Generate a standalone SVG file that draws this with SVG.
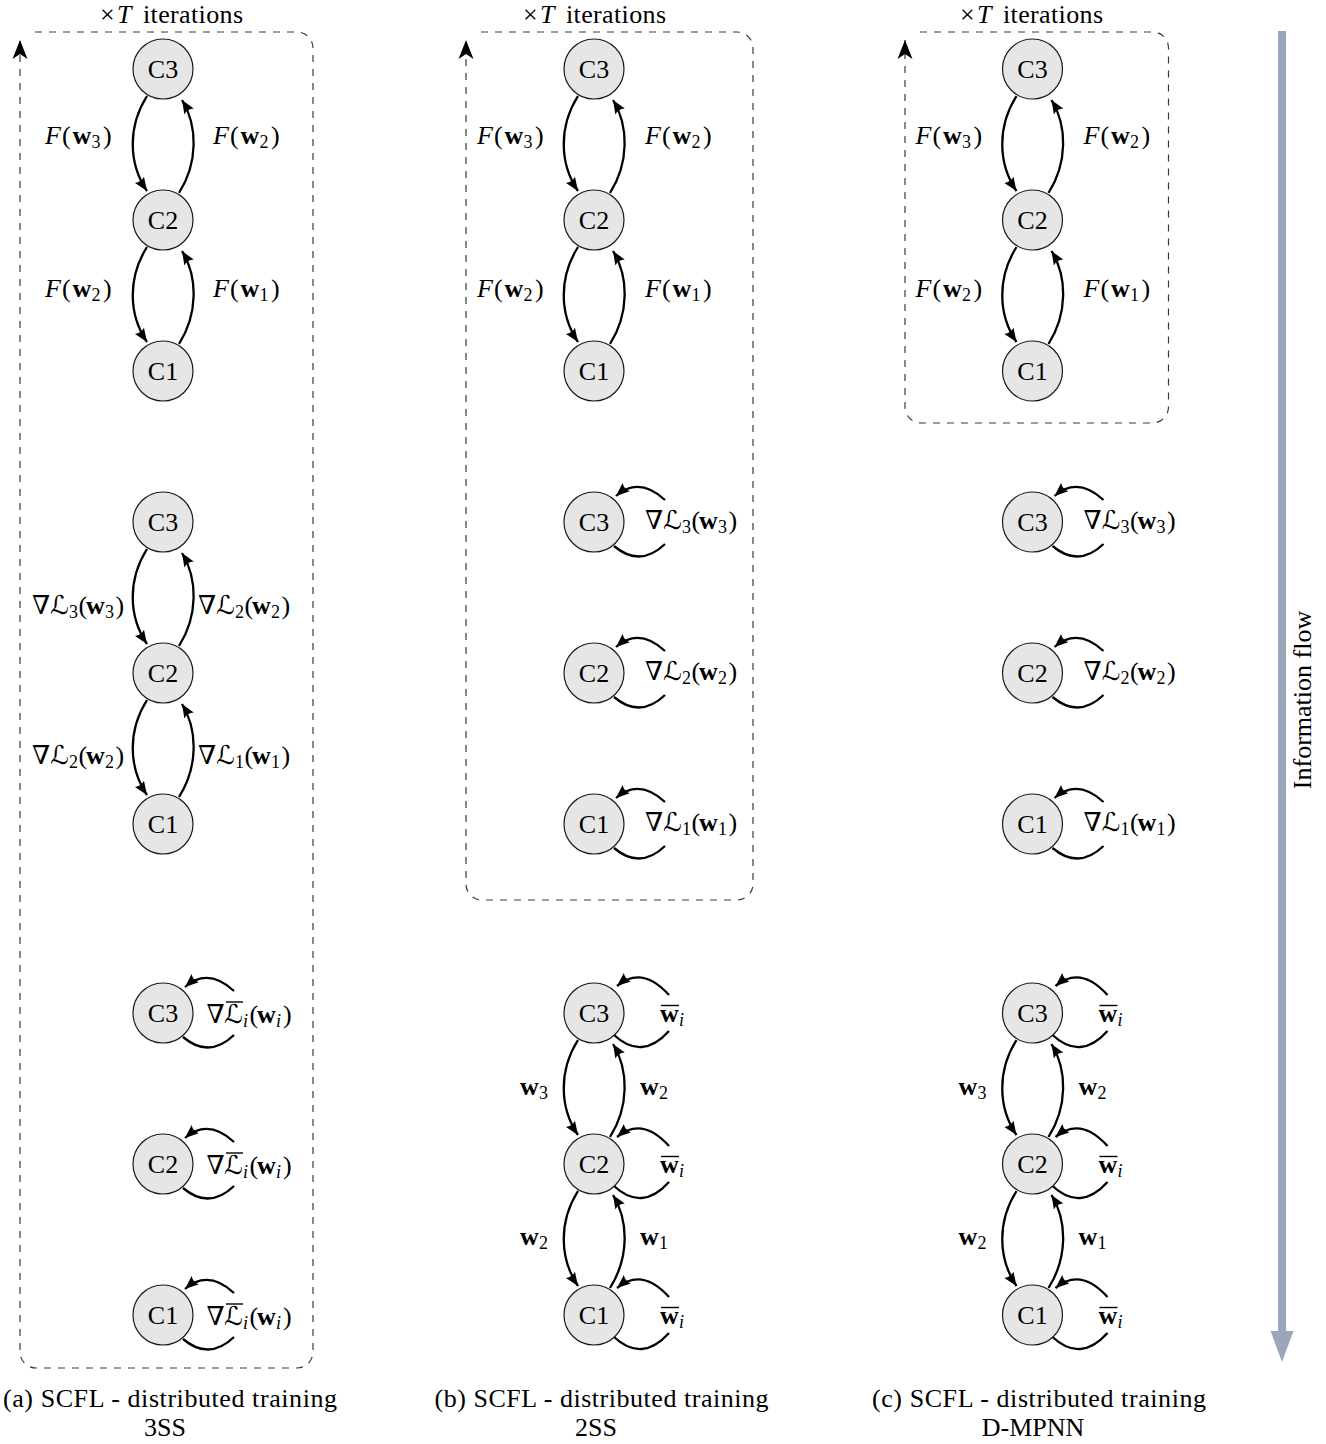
<svg xmlns="http://www.w3.org/2000/svg" width="1326" height="1444" viewBox="0 0 1326 1444">
<style>
text{font-family:"Liberation Serif","DejaVu Serif",serif;font-size:26px;fill:#000}
.node circle{fill:#e6e6e6;stroke:#1a1a1a;stroke-width:1.2}
.node text{text-anchor:middle}
.e{fill:none;stroke:#000;stroke-width:2.3;marker-end:url(#ah)}
.l{fill:none;stroke:#000;stroke-width:2.3}
.box{fill:none;stroke:#3a3a3a;stroke-width:1.2;stroke-dasharray:7 7;marker-end:url(#st)}
.i{font-style:italic}
.b{font-weight:bold}
.s{font-size:18px}
.m{font-family:"DejaVu Serif","DejaVu Sans",serif}
.ol{stroke:#000;stroke-width:1.4}
.mid{text-anchor:middle}
</style>
<defs>
<marker id="ah" viewBox="-14 -6 15 12" refX="0" refY="0" markerWidth="15" markerHeight="12" markerUnits="userSpaceOnUse" orient="auto">
<path d="M0,0 L-13.5,-5.5 Q-10.5,0 -13.5,5.5 Z" fill="#000"/>
</marker>
<marker id="st" viewBox="-20 -9 21 18" refX="0" refY="0" markerWidth="21" markerHeight="18" markerUnits="userSpaceOnUse" orient="auto">
<path d="M0,0 L-19,-7.5 L-14,0 L-19,7.5 Z" fill="#000"/>
</marker>
</defs>

<g id="frames">
<path class="box" d="M35,32 H297 A16,16 0 0 1 313,48 V1352 A16,16 0 0 1 297,1368 H36 A16,16 0 0 1 20,1352 V40"/>
<path class="box" d="M481,32 H737 A16,16 0 0 1 753,48 V884 A16,16 0 0 1 737,900 H482 A16,16 0 0 1 466,884 V40"/>
<path class="box" d="M920,32 H1152.5 A16,16 0 0 1 1168.5,48 V407 A16,16 0 0 1 1152.5,423 H921 A16,16 0 0 1 905,407 V40"/>
</g>

<g id="titles">
<text y="23"><tspan x="100">×</tspan><tspan class="i" x="117">T</tspan><tspan x="143" textLength="100">iterations</tspan></text>
<text y="23"><tspan x="523">×</tspan><tspan class="i" x="540">T</tspan><tspan x="566" textLength="100">iterations</tspan></text>
<text y="23"><tspan x="960">×</tspan><tspan class="i" x="977">T</tspan><tspan x="1003" textLength="100">iterations</tspan></text>
</g>

<g id="connectors">
<!-- panel a group 1 -->
<path class="e" d="M147,96 C128,126 128,163 147,191"/>
<path class="e" d="M179,193 C198,163 198,126 182,100"/>
<path class="e" d="M147,247 C128,277 128,314 147,342"/>
<path class="e" d="M179,344 C198,314 198,277 182,251"/>
<!-- panel a group 2 -->
<path class="e" d="M147,549 C128,579 128,616 147,644"/>
<path class="e" d="M179,646 C198,616 198,579 182,553"/>
<path class="e" d="M147,700 C128,730 128,767 147,795"/>
<path class="e" d="M179,797 C198,767 198,730 182,704"/>
<!-- panel a group 3 loops -->
<path class="e" d="M234,991 Q208,967 185,987"/><path class="l" d="M183,1037 Q209,1059 234,1035"/>
<path class="e" d="M234,1142 Q208,1118 185,1138"/><path class="l" d="M183,1188 Q209,1210 234,1186"/>
<path class="e" d="M234,1293 Q208,1269 185,1289"/><path class="l" d="M183,1339 Q209,1361 234,1337"/>
<!-- panel b group 1 -->
<path class="e" d="M578,96 C559,126 559,163 578,191"/>
<path class="e" d="M610,193 C629,163 629,126 613,100"/>
<path class="e" d="M578,247 C559,277 559,314 578,342"/>
<path class="e" d="M610,344 C629,314 629,277 613,251"/>
<!-- panel b group 2 loops -->
<path class="e" d="M665,500 Q639,476 616,496"/><path class="l" d="M614,546 Q640,568 665,544"/>
<path class="e" d="M665,651 Q639,627 616,647"/><path class="l" d="M614,697 Q640,719 665,695"/>
<path class="e" d="M665,802 Q639,778 616,798"/><path class="l" d="M614,848 Q640,870 665,846"/>
<!-- panel b group 3 -->
<path class="e" d="M578,1040 C559,1070 559,1107 578,1135"/>
<path class="e" d="M610,1137 C629,1107 629,1070 613,1044"/>
<path class="e" d="M578,1191 C559,1221 559,1258 578,1286"/>
<path class="e" d="M610,1288 C629,1258 629,1221 613,1195"/>
<path class="e" d="M669,995 Q642,965 617,986"/><path class="l" d="M614,1035 Q642,1061 669,1031"/>
<path class="e" d="M669,1146 Q642,1116 617,1137"/><path class="l" d="M614,1186 Q642,1212 669,1182"/>
<path class="e" d="M669,1297 Q642,1267 617,1288"/><path class="l" d="M614,1337 Q642,1363 669,1333"/>
<!-- panel c group 1 -->
<path class="e" d="M1016.5,96 C997.5,126 997.5,163 1016.5,191"/>
<path class="e" d="M1048.5,193 C1067.5,163 1067.5,126 1051.5,100"/>
<path class="e" d="M1016.5,247 C997.5,277 997.5,314 1016.5,342"/>
<path class="e" d="M1048.5,344 C1067.5,314 1067.5,277 1051.5,251"/>
<!-- panel c group 2 loops -->
<path class="e" d="M1103.5,500 Q1077.5,476 1054.5,496"/><path class="l" d="M1052.5,546 Q1078.5,568 1103.5,544"/>
<path class="e" d="M1103.5,651 Q1077.5,627 1054.5,647"/><path class="l" d="M1052.5,697 Q1078.5,719 1103.5,695"/>
<path class="e" d="M1103.5,802 Q1077.5,778 1054.5,798"/><path class="l" d="M1052.5,848 Q1078.5,870 1103.5,846"/>
<!-- panel c group 3 -->
<path class="e" d="M1016.5,1040 C997.5,1070 997.5,1107 1016.5,1135"/>
<path class="e" d="M1048.5,1137 C1067.5,1107 1067.5,1070 1051.5,1044"/>
<path class="e" d="M1016.5,1191 C997.5,1221 997.5,1258 1016.5,1286"/>
<path class="e" d="M1048.5,1288 C1067.5,1258 1067.5,1221 1051.5,1195"/>
<path class="e" d="M1107.5,995 Q1080.5,965 1055.5,986"/><path class="l" d="M1052.5,1035 Q1080.5,1061 1107.5,1031"/>
<path class="e" d="M1107.5,1146 Q1080.5,1116 1055.5,1137"/><path class="l" d="M1052.5,1186 Q1080.5,1212 1107.5,1182"/>
<path class="e" d="M1107.5,1297 Q1080.5,1267 1055.5,1288"/><path class="l" d="M1052.5,1337 Q1080.5,1363 1107.5,1333"/>
</g>

<g id="nodes">
<g id="a1-C3" class="node"><circle cx="163" cy="69" r="30"/><text x="163" y="78">C3</text></g>
<g id="a1-C2" class="node"><circle cx="163" cy="220" r="30"/><text x="163" y="229">C2</text></g>
<g id="a1-C1" class="node"><circle cx="163" cy="371" r="30"/><text x="163" y="380">C1</text></g>
<g id="a2-C3" class="node"><circle cx="163" cy="522" r="30"/><text x="163" y="531">C3</text></g>
<g id="a2-C2" class="node"><circle cx="163" cy="673" r="30"/><text x="163" y="682">C2</text></g>
<g id="a2-C1" class="node"><circle cx="163" cy="824" r="30"/><text x="163" y="833">C1</text></g>
<g id="a3-C3" class="node"><circle cx="163" cy="1013" r="30"/><text x="163" y="1022">C3</text></g>
<g id="a3-C2" class="node"><circle cx="163" cy="1164" r="30"/><text x="163" y="1173">C2</text></g>
<g id="a3-C1" class="node"><circle cx="163" cy="1315" r="30"/><text x="163" y="1324">C1</text></g>

<g id="b1-C3" class="node"><circle cx="594" cy="69" r="30"/><text x="594" y="78">C3</text></g>
<g id="b1-C2" class="node"><circle cx="594" cy="220" r="30"/><text x="594" y="229">C2</text></g>
<g id="b1-C1" class="node"><circle cx="594" cy="371" r="30"/><text x="594" y="380">C1</text></g>
<g id="b2-C3" class="node"><circle cx="594" cy="522" r="30"/><text x="594" y="531">C3</text></g>
<g id="b2-C2" class="node"><circle cx="594" cy="673" r="30"/><text x="594" y="682">C2</text></g>
<g id="b2-C1" class="node"><circle cx="594" cy="824" r="30"/><text x="594" y="833">C1</text></g>
<g id="b3-C3" class="node"><circle cx="594" cy="1013" r="30"/><text x="594" y="1022">C3</text></g>
<g id="b3-C2" class="node"><circle cx="594" cy="1164" r="30"/><text x="594" y="1173">C2</text></g>
<g id="b3-C1" class="node"><circle cx="594" cy="1315" r="30"/><text x="594" y="1324">C1</text></g>

<g id="c1-C3" class="node"><circle cx="1032.5" cy="69" r="30"/><text x="1032.5" y="78">C3</text></g>
<g id="c1-C2" class="node"><circle cx="1032.5" cy="220" r="30"/><text x="1032.5" y="229">C2</text></g>
<g id="c1-C1" class="node"><circle cx="1032.5" cy="371" r="30"/><text x="1032.5" y="380">C1</text></g>
<g id="c2-C3" class="node"><circle cx="1032.5" cy="522" r="30"/><text x="1032.5" y="531">C3</text></g>
<g id="c2-C2" class="node"><circle cx="1032.5" cy="673" r="30"/><text x="1032.5" y="682">C2</text></g>
<g id="c2-C1" class="node"><circle cx="1032.5" cy="824" r="30"/><text x="1032.5" y="833">C1</text></g>
<g id="c3-C3" class="node"><circle cx="1032.5" cy="1013" r="30"/><text x="1032.5" y="1022">C3</text></g>
<g id="c3-C2" class="node"><circle cx="1032.5" cy="1164" r="30"/><text x="1032.5" y="1173">C2</text></g>
<g id="c3-C1" class="node"><circle cx="1032.5" cy="1315" r="30"/><text x="1032.5" y="1324">C1</text></g>
</g>

<g id="edge-labels">
<!-- F labels -->
<text y="144"><tspan class="i" x="45">F</tspan><tspan x="62">(</tspan><tspan class="b" x="72.5">w</tspan><tspan class="s" x="91.5" dy="4">3</tspan><tspan x="103" dy="-4">)</tspan></text>
<text y="144"><tspan class="i" x="213">F</tspan><tspan x="230">(</tspan><tspan class="b" x="240.5">w</tspan><tspan class="s" x="259.5" dy="4">2</tspan><tspan x="271" dy="-4">)</tspan></text>
<text y="297"><tspan class="i" x="45">F</tspan><tspan x="62">(</tspan><tspan class="b" x="72.5">w</tspan><tspan class="s" x="91.5" dy="4">2</tspan><tspan x="103" dy="-4">)</tspan></text>
<text y="297"><tspan class="i" x="213">F</tspan><tspan x="230">(</tspan><tspan class="b" x="240.5">w</tspan><tspan class="s" x="259.5" dy="4">1</tspan><tspan x="271" dy="-4">)</tspan></text>

<text y="144"><tspan class="i" x="477">F</tspan><tspan x="494">(</tspan><tspan class="b" x="504.5">w</tspan><tspan class="s" x="523.5" dy="4">3</tspan><tspan x="535" dy="-4">)</tspan></text>
<text y="144"><tspan class="i" x="645">F</tspan><tspan x="662">(</tspan><tspan class="b" x="672.5">w</tspan><tspan class="s" x="691.5" dy="4">2</tspan><tspan x="703" dy="-4">)</tspan></text>
<text y="297"><tspan class="i" x="477">F</tspan><tspan x="494">(</tspan><tspan class="b" x="504.5">w</tspan><tspan class="s" x="523.5" dy="4">2</tspan><tspan x="535" dy="-4">)</tspan></text>
<text y="297"><tspan class="i" x="645">F</tspan><tspan x="662">(</tspan><tspan class="b" x="672.5">w</tspan><tspan class="s" x="691.5" dy="4">1</tspan><tspan x="703" dy="-4">)</tspan></text>

<text y="144"><tspan class="i" x="915.5">F</tspan><tspan x="932.5">(</tspan><tspan class="b" x="943">w</tspan><tspan class="s" x="962" dy="4">3</tspan><tspan x="973.5" dy="-4">)</tspan></text>
<text y="144"><tspan class="i" x="1083.5">F</tspan><tspan x="1100.5">(</tspan><tspan class="b" x="1111">w</tspan><tspan class="s" x="1130" dy="4">2</tspan><tspan x="1141.5" dy="-4">)</tspan></text>
<text y="297"><tspan class="i" x="915.5">F</tspan><tspan x="932.5">(</tspan><tspan class="b" x="943">w</tspan><tspan class="s" x="962" dy="4">2</tspan><tspan x="973.5" dy="-4">)</tspan></text>
<text y="297"><tspan class="i" x="1083.5">F</tspan><tspan x="1100.5">(</tspan><tspan class="b" x="1111">w</tspan><tspan class="s" x="1130" dy="4">1</tspan><tspan x="1141.5" dy="-4">)</tspan></text>

<!-- gradient labels panel a -->
<text y="613.5"><tspan class="m" x="32">∇</tspan><tspan class="m" x="50">ℒ</tspan><tspan class="s" x="69" dy="4">3</tspan><tspan x="78.5" dy="-4">(</tspan><tspan class="b" x="86">w</tspan><tspan class="s" x="105" dy="4">3</tspan><tspan x="115.5" dy="-4">)</tspan></text>
<text y="613.5"><tspan class="m" x="198">∇</tspan><tspan class="m" x="216">ℒ</tspan><tspan class="s" x="235" dy="4">2</tspan><tspan x="244.5" dy="-4">(</tspan><tspan class="b" x="252">w</tspan><tspan class="s" x="271" dy="4">2</tspan><tspan x="281.5" dy="-4">)</tspan></text>
<text y="763.5"><tspan class="m" x="32">∇</tspan><tspan class="m" x="50">ℒ</tspan><tspan class="s" x="69" dy="4">2</tspan><tspan x="78.5" dy="-4">(</tspan><tspan class="b" x="86">w</tspan><tspan class="s" x="105" dy="4">2</tspan><tspan x="115.5" dy="-4">)</tspan></text>
<text y="763.5"><tspan class="m" x="198">∇</tspan><tspan class="m" x="216">ℒ</tspan><tspan class="s" x="235" dy="4">1</tspan><tspan x="244.5" dy="-4">(</tspan><tspan class="b" x="252">w</tspan><tspan class="s" x="271" dy="4">1</tspan><tspan x="281.5" dy="-4">)</tspan></text>

<!-- averaged gradient loops panel a -->
<text y="1023"><tspan class="m" x="206.5">∇</tspan><tspan class="m" x="224">ℒ</tspan><tspan class="s i" x="243" dy="4">i</tspan><tspan x="249.5" dy="-4">(</tspan><tspan class="b" x="257">w</tspan><tspan class="s i" x="276" dy="4">i</tspan><tspan x="283" dy="-4">)</tspan></text>
<line class="ol" x1="226" y1="1002" x2="243" y2="1002"/>
<text y="1174"><tspan class="m" x="206.5">∇</tspan><tspan class="m" x="224">ℒ</tspan><tspan class="s i" x="243" dy="4">i</tspan><tspan x="249.5" dy="-4">(</tspan><tspan class="b" x="257">w</tspan><tspan class="s i" x="276" dy="4">i</tspan><tspan x="283" dy="-4">)</tspan></text>
<line class="ol" x1="226" y1="1153" x2="243" y2="1153"/>
<text y="1325"><tspan class="m" x="206.5">∇</tspan><tspan class="m" x="224">ℒ</tspan><tspan class="s i" x="243" dy="4">i</tspan><tspan x="249.5" dy="-4">(</tspan><tspan class="b" x="257">w</tspan><tspan class="s i" x="276" dy="4">i</tspan><tspan x="283" dy="-4">)</tspan></text>
<line class="ol" x1="226" y1="1304" x2="243" y2="1304"/>

<!-- loop gradient labels panel b -->
<text y="529"><tspan class="m" x="645">∇</tspan><tspan class="m" x="663">ℒ</tspan><tspan class="s" x="682" dy="4">3</tspan><tspan x="691.5" dy="-4">(</tspan><tspan class="b" x="699">w</tspan><tspan class="s" x="718" dy="4">3</tspan><tspan x="728.5" dy="-4">)</tspan></text>
<text y="680"><tspan class="m" x="645">∇</tspan><tspan class="m" x="663">ℒ</tspan><tspan class="s" x="682" dy="4">2</tspan><tspan x="691.5" dy="-4">(</tspan><tspan class="b" x="699">w</tspan><tspan class="s" x="718" dy="4">2</tspan><tspan x="728.5" dy="-4">)</tspan></text>
<text y="831"><tspan class="m" x="645">∇</tspan><tspan class="m" x="663">ℒ</tspan><tspan class="s" x="682" dy="4">1</tspan><tspan x="691.5" dy="-4">(</tspan><tspan class="b" x="699">w</tspan><tspan class="s" x="718" dy="4">1</tspan><tspan x="728.5" dy="-4">)</tspan></text>

<!-- loop gradient labels panel c -->
<text y="529"><tspan class="m" x="1083.5">∇</tspan><tspan class="m" x="1101.5">ℒ</tspan><tspan class="s" x="1120.5" dy="4">3</tspan><tspan x="1130" dy="-4">(</tspan><tspan class="b" x="1137.5">w</tspan><tspan class="s" x="1156.5" dy="4">3</tspan><tspan x="1167" dy="-4">)</tspan></text>
<text y="680"><tspan class="m" x="1083.5">∇</tspan><tspan class="m" x="1101.5">ℒ</tspan><tspan class="s" x="1120.5" dy="4">2</tspan><tspan x="1130" dy="-4">(</tspan><tspan class="b" x="1137.5">w</tspan><tspan class="s" x="1156.5" dy="4">2</tspan><tspan x="1167" dy="-4">)</tspan></text>
<text y="831"><tspan class="m" x="1083.5">∇</tspan><tspan class="m" x="1101.5">ℒ</tspan><tspan class="s" x="1120.5" dy="4">1</tspan><tspan x="1130" dy="-4">(</tspan><tspan class="b" x="1137.5">w</tspan><tspan class="s" x="1156.5" dy="4">1</tspan><tspan x="1167" dy="-4">)</tspan></text>

<!-- w labels panel b -->
<text y="1095"><tspan class="b" x="520">w</tspan><tspan class="s" x="539" dy="4">3</tspan></text>
<text y="1095"><tspan class="b" x="640">w</tspan><tspan class="s" x="659" dy="4">2</tspan></text>
<text y="1245"><tspan class="b" x="520">w</tspan><tspan class="s" x="539" dy="4">2</tspan></text>
<text y="1245"><tspan class="b" x="640">w</tspan><tspan class="s" x="659" dy="4">1</tspan></text>
<text y="1021.5"><tspan class="b" x="660">w</tspan><tspan class="s i" x="679" dy="4">i</tspan></text>
<line class="ol" x1="661" y1="1005.5" x2="679" y2="1005.5"/>
<text y="1172.5"><tspan class="b" x="660">w</tspan><tspan class="s i" x="679" dy="4">i</tspan></text>
<line class="ol" x1="661" y1="1156.5" x2="679" y2="1156.5"/>
<text y="1323.5"><tspan class="b" x="660">w</tspan><tspan class="s i" x="679" dy="4">i</tspan></text>
<line class="ol" x1="661" y1="1307.5" x2="679" y2="1307.5"/>

<!-- w labels panel c -->
<text y="1095"><tspan class="b" x="958.5">w</tspan><tspan class="s" x="977.5" dy="4">3</tspan></text>
<text y="1095"><tspan class="b" x="1078.5">w</tspan><tspan class="s" x="1097.5" dy="4">2</tspan></text>
<text y="1245"><tspan class="b" x="958.5">w</tspan><tspan class="s" x="977.5" dy="4">2</tspan></text>
<text y="1245"><tspan class="b" x="1078.5">w</tspan><tspan class="s" x="1097.5" dy="4">1</tspan></text>
<text y="1021.5"><tspan class="b" x="1098.5">w</tspan><tspan class="s i" x="1117.5" dy="4">i</tspan></text>
<line class="ol" x1="1099.5" y1="1005.5" x2="1117.5" y2="1005.5"/>
<text y="1172.5"><tspan class="b" x="1098.5">w</tspan><tspan class="s i" x="1117.5" dy="4">i</tspan></text>
<line class="ol" x1="1099.5" y1="1156.5" x2="1117.5" y2="1156.5"/>
<text y="1323.5"><tspan class="b" x="1098.5">w</tspan><tspan class="s i" x="1117.5" dy="4">i</tspan></text>
<line class="ol" x1="1099.5" y1="1307.5" x2="1117.5" y2="1307.5"/>
</g>

<g id="info-flow">
<rect x="1278" y="31" width="8" height="1301" fill="#98a8b8"/>
<polygon points="1270.5,1331 1293.5,1331 1282,1362" fill="#98a8b8"/>
<text class="mid" transform="translate(1311,700) rotate(-90)">Information flow</text>
</g>

<g id="captions">
<text class="mid" x="170" y="1407" textLength="334">(a) SCFL - distributed training</text>
<text class="mid" x="165" y="1436">3SS</text>
<text class="mid" x="601.5" y="1407" textLength="334">(b) SCFL - distributed training</text>
<text class="mid" x="596" y="1436">2SS</text>
<text class="mid" x="1039" y="1407" textLength="334">(c) SCFL - distributed training</text>
<text class="mid" x="1033" y="1436">D-MPNN</text>
</g>
</svg>
